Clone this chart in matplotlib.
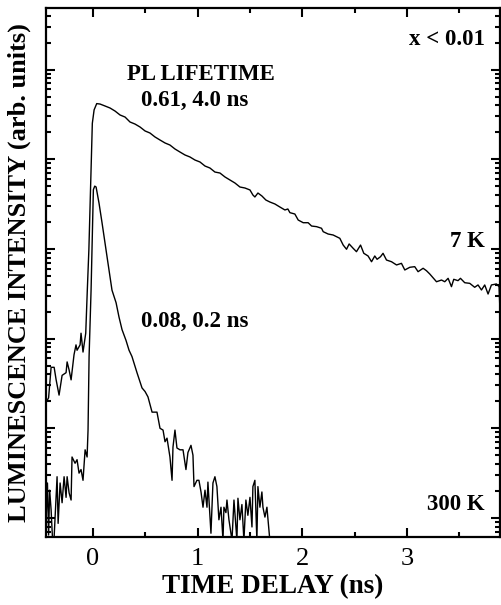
import matplotlib
matplotlib.use('Agg')
import matplotlib.pyplot as plt
from matplotlib.ticker import LogLocator, MultipleLocator, NullFormatter
import numpy as np

plt.rcParams['font.family'] = ['Liberation Serif', 'DejaVu Serif']

# 7 K trace: time (ns), log10 intensity (arb. units)
t_7k = [-0.449, -0.425, -0.401, -0.372, -0.353, -0.325, -0.296, -0.258, -0.248,
        -0.229, -0.210, -0.182, -0.163, -0.153, -0.124, -0.115, -0.096, -0.070,
        -0.055, -0.040, -0.007, 0.010, 0.035, 0.067, 0.115, 0.162, 0.210, 0.258,
        0.306, 0.353, 0.401, 0.449, 0.497, 0.544, 0.592, 0.640, 0.688, 0.735,
        0.783, 0.831, 0.879, 0.926, 0.974, 1.022, 1.070, 1.117, 1.165, 1.213,
        1.261, 1.309, 1.356, 1.404, 1.452, 1.500, 1.528, 1.547, 1.576, 1.614,
        1.652, 1.690, 1.738, 1.786, 1.834, 1.862, 1.882, 1.929, 1.961, 2.009,
        2.056, 2.089, 2.137, 2.184, 2.200, 2.247, 2.295, 2.359, 2.391, 2.423,
        2.448, 2.486, 2.518, 2.557, 2.588, 2.629, 2.662, 2.693, 2.715, 2.748,
        2.772, 2.805, 2.853, 2.901, 2.948, 2.980, 3.028, 3.075, 3.107, 3.155,
        3.187, 3.219, 3.283, 3.331, 3.362, 3.394, 3.426, 3.448, 3.489, 3.512,
        3.553, 3.601, 3.648, 3.680, 3.713, 3.744, 3.776, 3.808, 3.856, 3.881,
        3.887]
lg_7k = [1.29, 1.34, 1.68, 1.68, 1.54, 1.37, 1.59, 1.62, 1.74,
         1.65, 1.54, 1.82, 1.93, 1.87, 1.93, 2.06, 1.85, 2.06,
         2.54, 2.99, 4.40, 4.55, 4.62, 4.615, 4.593, 4.571, 4.537, 4.493,
         4.470, 4.415, 4.392, 4.359, 4.315, 4.292, 4.248, 4.214, 4.181, 4.158,
         4.114, 4.080, 4.047, 4.025, 3.991, 3.969, 3.924, 3.902, 3.857, 3.846,
         3.802, 3.768, 3.735, 3.690, 3.679, 3.657, 3.601, 3.579, 3.623, 3.590,
         3.545, 3.523, 3.501, 3.467, 3.434, 3.445, 3.404, 3.389, 3.322, 3.292,
         3.292, 3.255, 3.248, 3.230, 3.192, 3.166, 3.155, 3.118, 3.043, 2.996,
         3.055, 3.007, 2.969, 3.043, 2.951, 2.921, 2.857, 2.921, 2.884, 2.913,
         2.951, 2.876, 2.857, 2.821, 2.839, 2.765, 2.795, 2.802, 2.746, 2.784,
         2.757, 2.720, 2.634, 2.653, 2.634, 2.672, 2.579, 2.661, 2.646, 2.672,
         2.623, 2.616, 2.572, 2.598, 2.542, 2.598, 2.497, 2.598, 2.609, 2.579,
         2.397]

# 300 K trace: time (ns), log10 intensity (arb. units)
t_300k = [-0.449, -0.436, -0.425, -0.415, -0.401, -0.387, -0.372, -0.344, -0.334,
          -0.315, -0.296, -0.277, -0.258, -0.248, -0.229, -0.210, -0.201, -0.172,
          -0.153, -0.134, -0.115, -0.096, -0.076, -0.057, -0.048, -0.038, -0.019,
          0.003, 0.016, 0.029, 0.057, 0.086, 0.134, 0.181, 0.220, 0.248, 0.277,
          0.315, 0.344, 0.372, 0.420, 0.468, 0.497, 0.525, 0.564, 0.611, 0.640,
          0.669, 0.688, 0.707, 0.735, 0.755, 0.764, 0.783, 0.802, 0.831, 0.860,
          0.888, 0.907, 0.936, 0.955, 0.965, 0.993, 1.012, 1.032, 1.051, 1.070,
          1.089, 1.098, 1.127, 1.146, 1.165, 1.184, 1.203, 1.223, 1.242, 1.251,
          1.270, 1.280, 1.299, 1.328, 1.347, 1.375, 1.385, 1.404, 1.423, 1.442,
          1.461, 1.480, 1.500, 1.519, 1.528, 1.547, 1.566, 1.576, 1.595, 1.614,
          1.624, 1.643, 1.662, 1.671, 1.690]
lg_300k = [-0.02, 0.39, -0.19, 0.31, 0.09, -0.25, -0.21, 0.46, -0.06,
           0.39, 0.17, 0.46, 0.23, 0.46, 0.28, 0.20, 0.68, 0.61,
           0.65, 0.50, 0.54, 0.42, 0.76, 0.68, 0.98, 1.80, 2.54,
           3.66, 3.70, 3.69, 3.51, 3.29, 2.91, 2.54, 2.40, 2.24, 2.10,
           1.98, 1.87, 1.80, 1.62, 1.45, 1.41, 1.35, 1.18, 1.18, 1.00,
           0.98, 0.85, 0.89, 0.68, 0.42, 0.79, 0.98, 0.78, 0.76, 0.76,
           0.54, 0.73, 0.81, 0.70, 0.35, 0.42, 0.42, 0.29, 0.12, 0.31,
           0.12, 0.40, -0.17, 0.39, 0.46, 0.35, -0.02, 0.12, -0.25, 0.12,
           0.06, 0.20, -0.02, -0.25, 0.20, -0.25, 0.22, -0.02, 0.15, -0.25,
           0.20, 0.03, 0.23, -0.10, 0.35, 0.42, -0.25, 0.35, 0.12, 0.29,
           0.12, 0.01, 0.12, 0.00, -0.25]

fig = plt.figure(figsize=(5.02, 6.05), dpi=100)
ax = fig.add_axes([0.0916, 0.1124, 0.9044, 0.8744])

ax.plot(t_7k, 10 ** np.array(lg_7k), color='black', lw=1.0)
ax.plot(t_300k, 10 ** np.array(lg_300k), color='black', lw=1.0)

ax.set_yscale('log')
ax.set_xlim(-0.45, 3.89)
ax.set_ylim(10 ** -0.212, 10 ** 5.686)

ax.xaxis.set_major_locator(MultipleLocator(1))
ax.xaxis.set_minor_locator(MultipleLocator(0.5))
ax.yaxis.set_major_locator(LogLocator(base=10, numticks=20))
ax.yaxis.set_minor_locator(LogLocator(base=10, subs=np.arange(2, 10), numticks=20))
ax.yaxis.set_major_formatter(NullFormatter())
ax.yaxis.set_minor_formatter(NullFormatter())

ax.tick_params(which='both', direction='in', top=True, right=True, width=1.5)
ax.tick_params(which='major', length=6.5, labelsize=19, pad=8)
ax.tick_params(which='minor', length=3.5)
for s in ax.spines.values():
    s.set_linewidth(1.6)

ax.set_xlabel('TIME DELAY (ns)', fontsize=19.5, fontweight='bold', labelpad=3)
ax.set_ylabel('LUMINESCENCE INTENSITY (arb. units)', fontsize=19,
              fontweight='bold', labelpad=3)

txt = dict(fontsize=16.5, fontweight='bold', va='center')
ax.text(1.03, 10 ** 4.94, 'PL LIFETIME', ha='center', **txt)
ax.text(0.974, 10 ** 4.66, '0.61, 4.0 ns', ha='center', **txt)
ax.text(0.974, 10 ** 2.196, '0.08, 0.2 ns', ha='center', **txt)
ax.text(3.744, 10 ** 5.33, 'x < 0.01', ha='right', **txt)
ax.text(3.744, 10 ** 3.088, '7 K', ha='right', **txt)
ax.text(3.744, 10 ** 0.145, '300 K', ha='right', **txt)

plt.savefig('out.png', dpi=100)
plt.close()
